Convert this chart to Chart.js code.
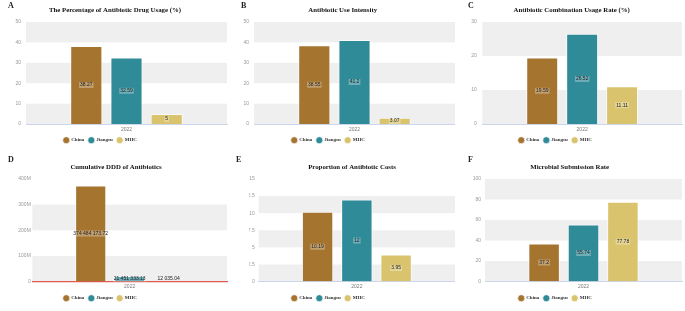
<!DOCTYPE html>
<html>
<head>
<meta charset="utf-8">
<script src="https://cdn.jsdelivr.net/npm/chart.js@4.4.1/dist/chart.umd.min.js"></script>
<style>
  html, body { margin: 0; padding: 0; background: #fff; }
  body { width: 685px; height: 311px; position: relative; overflow: hidden; }
  .panel { position: absolute; }
  .panel canvas { display: block; }
  .letter { position: absolute; font-family: "Liberation Serif", serif; font-weight: bold; font-size: 8px; line-height: 10px; color: #222; }
</style>
</head>
<body>
<script>
// chart data
const categories = ['2022'];
const seriesNames = ['China', 'Jiangsu', 'MHC'];
const seriesColors = ['#a5742f', '#2f8b98', '#d9c46d'];

const panelLetters = ['A', 'B', 'C', 'D', 'E', 'F'];
const panelTitles = [
  'The Percentage of Antibiotic Drug Usage (%)',
  'Antibiotic Use Intensity',
  'Antibiotic Combination Usage Rate (%)',
  'Cumulative DDD of Antibiotics',
  'Proportion of Antibiotic Costs',
  'Microbial Submission Rate'
];

const drugUsage = [38.27, 32.59, 5];
const useIntensity = [38.55, 41.2, 3.07];
const comboRate = [19.59, 26.52, 11.11];
const cumulativeDDD = [374484173.72, 21451333.13, 12035.04];
const costProportion = [10.19, 12, 3.95];
const submissionRate = [37.2, 55.74, 77.78];

const yMax = [50, 50, 30, 400000000, 15, 100];
const yStep = [10, 10, 10, 100000000, 2.5, 20];
const dddTickLabels = ['0', '100M', '200M', '300M', '400M'];

const panelValues = [drugUsage, useIntensity, comboRate, cumulativeDDD, costProportion, submissionRate];

// layout of each panel
const boxes = [
  { x: 0, y: 0, w: 228, h: 155 },
  { x: 228, y: 0, w: 227, h: 155 },
  { x: 455, y: 0, w: 230, h: 155 },
  { x: 0, y: 155, w: 228, h: 156 },
  { x: 228, y: 155, w: 227, h: 156 },
  { x: 455, y: 155, w: 230, h: 156 }
];
const letterLeft = [8, 13, 13, 8, 8, 13];
const titleCenter = [115, 114.7, 116.7, 116, 124, 114.7];
const plotLeft = [26, 26, 27.3, 32.3, 30.7, 30];
const plotRight = 227;
const yTickPad = [5, 5, 5.5, 1.5, 4, 4];
const legendStart = 63.5;

function fmtLabel(v, i) {
  if (i === 3) {
    const parts = v.toFixed(2).split('.');
    return parts[0].replace(/\B(?=(\d{3})+(?!\d))/g, ' ') + '.' + parts[1];
  }
  return String(v);
}

// grey bands behind the plot, bottom band is grey
const bandPlugin = {
  id: 'bands',
  beforeDraw(chart) {
    const { ctx, chartArea, scales } = chart;
    const ticks = scales.y.ticks;
    ctx.save();
    ctx.fillStyle = '#efefef';
    for (let k = 0; k < ticks.length - 1; k += 2) {
      const y0 = scales.y.getPixelForValue(ticks[k].value);
      const y1 = scales.y.getPixelForValue(ticks[k + 1].value);
      ctx.fillRect(chartArea.left, y1, chartArea.right - chartArea.left, y0 - y1);
    }
    ctx.restore();
  }
};

// value labels in the middle of each bar
const valuePlugin = {
  id: 'values',
  afterDatasetsDraw(chart, args, opts) {
    const { ctx } = chart;
    ctx.save();
    ctx.font = '5px "Liberation Sans", sans-serif';
    ctx.textAlign = 'center';
    ctx.textBaseline = 'middle';
    chart.data.datasets.forEach((ds, di) => {
      const bar = chart.getDatasetMeta(di).data[0];
      const txt = fmtLabel(ds.data[0], opts.panel);
      let cy = (bar.y + bar.base) / 2;
      if (bar.base - bar.y < 8) cy = Math.min(cy, bar.base - 3);
      const tw = ctx.measureText(txt).width;
      if (bar.base - bar.y > 3) {
        ctx.fillStyle = 'rgba(255,255,255,0.3)';
        ctx.fillRect(bar.x - tw / 2 - 1, cy - 3, tw + 2, 6);
      }
      ctx.fillStyle = '#222';
      ctx.fillText(txt, bar.x, cy);
    });
    ctx.restore();
  }
};

// move the legend row to where the reference puts it
const legendShift = {
  id: 'legendShift',
  afterLayout(chart, args, opts) {
    const lg = chart.legend;
    if (!lg || !lg.lineWidths) return;
    const pad = lg.options.labels.padding;
    lg.left = legendStart - pad;
    lg.right = legendStart + lg.lineWidths[0] + 0.5;
    lg.top = opts.centerY - pad - 3.3;
  }
};

panelValues.forEach((vals, i) => {
  const b = boxes[i];
  const top = i < 3;
  const div = document.createElement('div');
  div.className = 'panel';
  div.style.left = b.x + 'px';
  div.style.top = b.y + 'px';
  div.style.width = b.w + 'px';
  div.style.height = b.h + 'px';
  const cv = document.createElement('canvas');
  cv.width = b.w;
  cv.height = b.h;
  cv.style.width = b.w + 'px';
  cv.style.height = b.h + 'px';
  div.appendChild(cv);
  const letter = document.createElement('div');
  letter.className = 'letter';
  letter.textContent = panelLetters[i];
  letter.style.left = letterLeft[i] + 'px';
  letter.style.top = (top ? 1 : 0) + 'px';
  div.appendChild(letter);
  document.body.appendChild(div);

  const padR = b.w - plotRight;
  const padL = padR + 2 * titleCenter[i] - b.w;

  new Chart(cv, {
    type: 'bar',
    data: {
      labels: categories,
      datasets: seriesNames.map((name, s) => ({
        label: name,
        data: [vals[s]],
        backgroundColor: seriesColors[s],
        borderColor: 'rgba(255,255,255,0.7)',
        borderWidth: 1,
        categoryPercentage: 0.6,
        barPercentage: 0.8
      }))
    },
    options: {
      responsive: false,
      animation: false,
      devicePixelRatio: 1,
      layout: { padding: { left: padL, right: padR, top: 0, bottom: 0 } },
      plugins: {
        title: {
          display: true,
          text: panelTitles[i],
          color: '#111',
          font: { family: '"Liberation Serif", serif', weight: 'bold', size: 6.8 },
          padding: { top: top ? 6.5 : 8.5, bottom: 7.3 }
        },
        legend: {
          position: 'bottom',
          labels: {
            usePointStyle: true,
            pointStyle: 'circle',
            boxWidth: 5,
            boxHeight: 5,
            padding: 4.5,
            color: '#333',
            font: { family: '"Liberation Serif", serif', weight: 'bold', size: 5 }
          }
        },
        legendShift: { centerY: top ? 141 : 144 },
        tooltip: { enabled: false },
        values: { panel: i }
      },
      scales: {
        x: {
          grid: { display: false, drawTicks: false },
          border: { color: i === 3 ? '#e05a4f' : '#ccd6eb', width: i === 3 ? 1.2 : 1 },
          afterFit(scale) { scale.height = top ? 11.4 : 9.9; },
          ticks: { color: '#777', font: { family: '"Liberation Sans", sans-serif', size: 5 }, padding: 2.5 }
        },
        y: {
          min: 0,
          max: yMax[i],
          grid: { display: false, drawTicks: false },
          border: { display: false },
          afterFit(scale) { scale.width = plotLeft[i] - padL; },
          ticks: {
            stepSize: yStep[i],
            color: '#999',
            padding: yTickPad[i],
            font: { family: '"Liberation Sans", sans-serif', size: 5 },
            callback: (v, k) => i === 3 ? dddTickLabels[k] : v
          }
        }
      }
    },
    plugins: [bandPlugin, valuePlugin, legendShift]
  });
});
</script>
</body>
</html>
